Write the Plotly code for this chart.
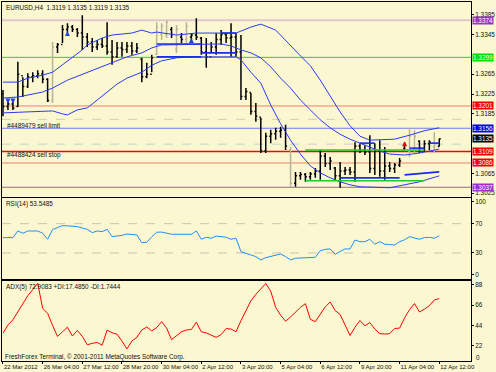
import plotly.graph_objects as go
from plotly.subplots import make_subplots

# ---------------- data ----------------
time_label_bars = [0, 8, 16, 24, 32, 40, 48, 56, 64, 72, 80, 88]
time_labels = ["22 Mar 2012", "26 Mar 04:00", "27 Mar 12:00", "28 Mar 20:00", "30 Mar 04:00",
               "2 Apr 12:00", "3 Apr 20:00", "5 Apr 04:00", "6 Apr 12:00", "9 Apr 20:00",
               "11 Apr 04:00", "12 Apr 12:00"]

bar_open = [1.3225, 1.3200, 1.3205, 1.3200, 1.3262, 1.3240, 1.3260, 1.3262, 1.3266, 1.3255,
            1.3212, 1.3320, 1.3325, 1.3355, 1.3360, 1.3355, 1.3348, 1.3340, 1.3330, 1.3320,
            1.3325, 1.3322, 1.3310, 1.3300, 1.3318, 1.3315, 1.3322, 1.3312, 1.3295, 1.3260,
            1.3265, 1.3305, 1.3345, 1.3345, 1.3355, 1.3315, 1.3340, 1.3335, 1.3340, 1.3344,
            1.3338, 1.3310, 1.3300, 1.3320, 1.3335, 1.3345, 1.3338, 1.3340, 1.3310, 1.3220,
            1.3228, 1.3190, 1.3178, 1.3110, 1.3140, 1.3145, 1.3150, 1.3152, 1.3112, 1.3045,
            1.3060, 1.3063, 1.3058, 1.3064, 1.3070, 1.3100, 1.3085, 1.3076, 1.3060, 1.3070,
            1.3072, 1.3068, 1.3120, 1.3112, 1.3108, 1.3075, 1.3110, 1.3070, 1.3080, 1.3075,
            1.3082, 1.3115, 1.3110, 1.3115, 1.3130, 1.3115, 1.3125, 1.3118, 1.3119]
bar_high = [1.3233, 1.3213, 1.3213, 1.3290, 1.3259, 1.3267, 1.3269, 1.3273, 1.3273, 1.3257,
            1.3330, 1.3328, 1.3364, 1.3368, 1.3364, 1.3358, 1.3384, 1.3348, 1.3338, 1.3334,
            1.3338, 1.3370, 1.3334, 1.3330, 1.3330, 1.3330, 1.3330, 1.3328, 1.3298, 1.3288,
            1.3304, 1.3370, 1.3368, 1.3374, 1.3360, 1.3364, 1.3348, 1.3370, 1.3348, 1.3378,
            1.3340, 1.3338, 1.3330, 1.3348, 1.3354, 1.3348, 1.3368, 1.3348, 1.3344, 1.3237,
            1.3227, 1.3207, 1.3177, 1.3147, 1.3153, 1.3157, 1.3159, 1.3163, 1.3118, 1.3068,
            1.3068, 1.3066, 1.3068, 1.3076, 1.3112, 1.3106, 1.3098, 1.3078, 1.3088, 1.3078,
            1.3078, 1.3128, 1.3126, 1.3122, 1.3142, 1.3126, 1.3132, 1.3118, 1.3088, 1.3086,
            1.3096, 1.3128, 1.3156, 1.3152, 1.3132, 1.3132, 1.3132, 1.3148, 1.3135]
bar_low = [1.3180, 1.3193, 1.3193, 1.3199, 1.3219, 1.3237, 1.3249, 1.3257, 1.3247, 1.3209,
           1.3207, 1.3308, 1.3328, 1.3348, 1.3350, 1.3340, 1.3314, 1.3320, 1.3310, 1.3314,
           1.3318, 1.3304, 1.3284, 1.3298, 1.3300, 1.3308, 1.3304, 1.3308, 1.3249, 1.3257,
           1.3269, 1.3304, 1.3334, 1.3338, 1.3338, 1.3308, 1.3328, 1.3328, 1.3330, 1.3334,
           1.3304, 1.3278, 1.3310, 1.3304, 1.3324, 1.3328, 1.3300, 1.3300, 1.3213, 1.3213,
           1.3183, 1.3169, 1.3106, 1.3106, 1.3126, 1.3133, 1.3137, 1.3112, 1.3038, 1.3038,
           1.3052, 1.3048, 1.3052, 1.3056, 1.3052, 1.3078, 1.3072, 1.3052, 1.3036, 1.3062,
           1.3062, 1.3048, 1.3106, 1.3102, 1.3066, 1.3062, 1.3058, 1.3052, 1.3068, 1.3066,
           1.3078, 1.3112, 1.3098, 1.3106, 1.3106, 1.3108, 1.3112, 1.3106, 1.3119]
bar_close = [1.3200, 1.3205, 1.3197, 1.3265, 1.3240, 1.3260, 1.3262, 1.3266, 1.3255, 1.3212,
             1.3320, 1.3325, 1.3355, 1.3360, 1.3355, 1.3348, 1.3340, 1.3330, 1.3320, 1.3325,
             1.3322, 1.3310, 1.3300, 1.3318, 1.3315, 1.3322, 1.3312, 1.3318, 1.3260, 1.3265,
             1.3298, 1.3360, 1.3362, 1.3370, 1.3345, 1.3355, 1.3335, 1.3362, 1.3344, 1.3340,
             1.3310, 1.3300, 1.3320, 1.3335, 1.3345, 1.3338, 1.3340, 1.3310, 1.3220, 1.3230,
             1.3190, 1.3180, 1.3110, 1.3140, 1.3145, 1.3150, 1.3152, 1.3120, 1.3045, 1.3060,
             1.3063, 1.3058, 1.3064, 1.3070, 1.3100, 1.3085, 1.3090, 1.3060, 1.3070, 1.3072,
             1.3068, 1.3120, 1.3112, 1.3108, 1.3075, 1.3110, 1.3070, 1.3080, 1.3075, 1.3082,
             1.3090, 1.3122, 1.3140, 1.3140, 1.3115, 1.3125, 1.3128, 1.3120, 1.3135]
gray_bars = [10, 31, 32, 33, 35, 37, 58, 82, 83, 87]

bb_up_x = [0, 3, 5, 8, 10, 13, 16, 17, 20, 22, 26, 28, 30, 31, 35, 37, 39, 44, 47, 50, 52, 55,
           58, 60, 62, 64, 66, 68, 70, 72, 74, 79, 82, 85, 88]
bb_up = [1.3249, 1.3249, 1.3257, 1.3263, 1.3269, 1.3292, 1.3314, 1.3324, 1.3338, 1.3344, 1.3348,
         1.3354, 1.3348, 1.3350, 1.3344, 1.3346, 1.3348, 1.3348, 1.3348, 1.3360, 1.3366, 1.3354,
         1.3322, 1.3302, 1.3282, 1.3253, 1.3221, 1.3189, 1.3161, 1.3140, 1.3132, 1.3134, 1.3142,
         1.3151, 1.3157]
bb_mid_x = [0, 3, 8, 10, 13, 16, 19, 22, 25, 28, 30, 32, 39, 44, 46, 48, 50, 52, 54, 56, 58, 60,
            62, 64, 66, 68, 70, 72, 74, 76, 78, 81, 84, 88]
bb_mid = [1.3217, 1.3219, 1.3229, 1.3237, 1.3253, 1.3265, 1.3276, 1.3288, 1.3300, 1.3308, 1.3318,
          1.3324, 1.3326, 1.3326, 1.3322, 1.3314, 1.3308, 1.3298, 1.3280, 1.3257, 1.3237, 1.3213,
          1.3193, 1.3173, 1.3157, 1.3144, 1.3134, 1.3126, 1.3118, 1.3110, 1.3104, 1.3102, 1.3106,
          1.3114]
bb_low_x = [0, 4, 10, 12, 13, 15, 17, 19, 21, 23, 25, 28, 30, 32, 35, 38, 47, 48, 50, 52, 54, 56,
            58, 60, 62, 64, 66, 68, 70, 72, 78, 81, 84, 88]
bb_low = [1.3187, 1.3189, 1.3191, 1.3185, 1.3183, 1.3193, 1.3197, 1.3213, 1.3229, 1.3245, 1.3257,
          1.3269, 1.3283, 1.3292, 1.3298, 1.3300, 1.3300, 1.3294, 1.3269, 1.3247, 1.3203, 1.3165,
          1.3132, 1.3104, 1.3080, 1.3066, 1.3056, 1.3048, 1.3042, 1.3038, 1.3036, 1.3042, 1.3048,
          1.3060]

chan_up_x = [31, 40, None, 44, 47, None, 72, 75, None, 82, 85, None, 86, 88]
chan_up = [1.3326, 1.3326, None, 1.3348, 1.3348, None, 1.3126, 1.3126, None, 1.3116, 1.3116, None,
           1.3126, 1.3126]
chan_low_x = [31, 40, None, 40, 47, None, 68, 80, None, 81, 88]
chan_low = [1.3300, 1.3300, None, 1.3308, 1.3308, None, 1.3056, 1.3056, None, 1.3062, 1.3068]

box_x = [61, 85]
box_top = [1.3112, 1.3112]
box_bottom = [1.3050, 1.3050]

level_prices = [1.3374, 1.3299, 1.3201, 1.3156, 1.3109, 1.3086, 1.3037]
level_colors = ["#E4C6D0", "#00F000", "#F0806A", "#6C7CF0", "#FF0000", "#F0806A", "#9A5CD0"]
level_widths = [2, 1, 1, 1, 1.5, 1, 1]
dash_levels = [1.3174, 1.3124]

tag_prices = [1.3374, 1.3299, 1.3201, 1.3156, 1.3135, 1.3109, 1.3086, 1.3037]
tag_colors = ["#9933CC", "#00E000", "#F00000", "#0000F0", "#000000", "#F00000", "#F00000", "#9933CC"]
price_ticks = [1.3385, 1.3345, 1.3265, 1.3225, 1.3185, 1.3065, 1.3025]

arrow_x = [1, 2, 13, 38, 81]
arrow_y = [1.3206, 1.3206, 1.3352, 1.3338, 1.3130]
arrow_sym = ["arrow-down", "arrow-down", "arrow-up", "arrow-up", "arrow-up"]
arrow_col = ["#2040F0", "#2040F0", "#2040F0", "#2040F0", "#F00000"]

rsi = [50.9, 50.9, 50.9, 60.0, 56.9, 60.0, 60.0, 60.0, 57.0, 48.7,
       62.0, 65.0, 67.3, 67.0, 66.9, 66.0, 64.0, 62.3, 57.7, 60.0,
       59.1, 62.3, 52.3, 53.0, 54.0, 55.9, 55.0, 54.6, 44.1, 44.6,
       52.0, 58.3, 58.5, 57.0, 55.5, 55.5, 55.5, 55.5, 55.5, 60.0,
       48.7, 51.4, 50.1, 53.0, 52.3, 51.5, 48.7, 50.1, 31.8, 30.0,
       27.3, 25.0, 20.5, 23.6, 25.0, 26.5, 28.6, 25.0, 20.5, 22.8,
       23.0, 23.6, 24.0, 24.1, 33.0, 35.0, 35.5, 28.2, 32.0, 35.5,
       35.5, 47.7, 45.4, 45.4, 48.7, 41.9, 45.4, 41.9, 41.5, 40.9,
       45.4, 48.0, 52.3, 50.1, 48.7, 51.0, 51.4, 50.1, 53.5]
adx = [35.4, 44.4, 50.0, 59.0, 67.5, 76.0, 82.7, 89.5, 62.5, 57.0,
       44.0, 32.0, 37.0, 42.0, 32.5, 38.5, 32.0, 23.0, 24.5, 25.5,
       22.5, 38.8, 36.0, 34.4, 27.0, 18.5, 27.0, 31.0, 39.0, 42.2,
       38.0, 41.5, 48.0, 41.0, 28.5, 32.5, 37.0, 39.0, 39.5, 47.5,
       37.0, 35.8, 33.5, 31.0, 34.0, 40.5, 40.0, 37.1, 49.0, 60.0,
       70.5, 77.6, 84.0, 89.3, 81.0, 63.5, 55.0, 48.5, 53.0, 58.5,
       63.5, 67.5, 50.5, 48.0, 56.0, 64.0, 69.3, 60.0, 55.8, 44.0,
       33.0, 42.0, 49.2, 43.5, 47.0, 40.0, 35.0, 34.6, 35.0, 40.6,
       41.0, 52.0, 61.0, 67.6, 58.5, 61.5, 65.3, 71.5, 72.9]
rsi_levels = [70, 30]
rsi_ticks = [100, 70, 30, 0]
adx_ticks = [88, 66, 44, 22]

# ---------------- figure ----------------
BG = "#FBF7D0"
FONT = "Liberation Sans"
FS = 6.4
W, H = 496, 372
ML, MR, MT, MB = 2, 25, 2, 11
PW, PH = W - ML - MR, H - MT - MB


def px(x):
    return (x - ML) / PW


def py(y):
    return (H - MB - y) / PH


fig = make_subplots(rows=3, cols=1, shared_xaxes=True, vertical_spacing=0.0)
n = len(bar_open)
idx = list(range(n))
black_idx = [i for i in idx if i not in gray_bars]
for sel, col in ((black_idx, "#000000"), (gray_bars, "#B8B49C")):
    fig.add_trace(go.Ohlc(
        x=sel, open=[bar_open[i] for i in sel], high=[bar_high[i] for i in sel],
        low=[bar_low[i] for i in sel], close=[bar_close[i] for i in sel],
        increasing_line_color=col, decreasing_line_color=col, line_width=1.5,
        tickwidth=0.3, showlegend=False, hoverinfo="skip"), row=1, col=1)

for xs, ys in ((bb_up_x, bb_up), (bb_mid_x, bb_mid), (bb_low_x, bb_low)):
    fig.add_trace(go.Scatter(x=xs, y=ys, mode="lines", line=dict(color="#2A3CF0", width=1),
                             showlegend=False, hoverinfo="skip"), row=1, col=1)
for xs, ys in ((chan_up_x, chan_up), (chan_low_x, chan_low)):
    fig.add_trace(go.Scatter(x=xs, y=ys, mode="lines", line=dict(color="#1A2AF0", width=1.6),
                             showlegend=False, hoverinfo="skip", connectgaps=False), row=1, col=1)
for ys in (box_top, box_bottom):
    fig.add_trace(go.Scatter(x=box_x, y=ys, mode="lines", line=dict(color="#22CC22", width=1.5),
                             showlegend=False, hoverinfo="skip"), row=1, col=1)
fig.add_trace(go.Scatter(x=arrow_x, y=arrow_y, mode="markers",
                         marker=dict(symbol=arrow_sym, color=arrow_col, size=5, line_width=0),
                         showlegend=False, hoverinfo="skip"), row=1, col=1)

fig.add_trace(go.Scatter(x=idx, y=rsi, mode="lines", line=dict(color="#1E90FF", width=1),
                         showlegend=False, hoverinfo="skip"), row=2, col=1)
fig.add_trace(go.Scatter(x=idx, y=adx, mode="lines", line=dict(color="#FF0000", width=1),
                         showlegend=False, hoverinfo="skip"), row=3, col=1)

shapes = []
for p, c, w in zip(level_prices, level_colors, level_widths):
    shapes.append(dict(type="line", xref="x domain", yref="y", x0=0, x1=1, y0=p, y1=p,
                       line=dict(color=c, width=w), layer="below"))
for p in dash_levels:
    shapes.append(dict(type="line", xref="x domain", yref="y", x0=0, x1=1, y0=p, y1=p,
                       line=dict(color="#D0CDC0", width=1, dash="dash"), layer="below"))
for v in rsi_levels:
    shapes.append(dict(type="line", xref="x2 domain", yref="y2", x0=0, x1=1, y0=v, y1=v,
                       line=dict(color="#C8C4B4", width=1, dash="dash"), layer="below"))

ann = []
for p, c in zip(tag_prices, tag_colors):
    ann.append(dict(xref="paper", yref="y", x=1, y=p, xanchor="left", yanchor="middle",
                    xshift=1, text=f"{p:.4f}", showarrow=False, bgcolor=c, borderpad=0,
                    font=dict(color="white", size=FS, family=FONT)))
texts = [
    ("EURUSD,H4  1.3119 1.3135 1.3119 1.3135", 4, 7),
    ("#4489479 sell limit", 5, 125),
    ("#4488424 sell stop", 5, 155),
    ("RSI(14) 53.5485", 4, 204),
    ("ADX(5) 72.9083 +DI:17.4850 -DI:1.7444", 4, 287),
    ("FreshForex Terminal, © 2001-2011 MetaQuotes Software Corp.", 3, 357),
]
for t, x, y in texts:
    ann.append(dict(xref="paper", yref="paper", x=px(x), y=py(y), xanchor="left",
                    yanchor="middle", text=t, showarrow=False,
                    font=dict(color="#111111", size=FS, family=FONT)))
ann.append(dict(xref="paper", yref="paper", x=1, y=py(357), xanchor="left", yanchor="middle",
                xshift=3, text="0", showarrow=False, font=dict(color="#111111", size=FS, family=FONT)))

fig.update_layout(
    width=W, height=H, margin=dict(l=ML, r=MR, t=MT, b=MB, autoexpand=False),
    paper_bgcolor=BG, plot_bgcolor=BG, shapes=shapes, annotations=ann,
    font=dict(family=FONT, size=FS, color="#111111"),
    yaxis=dict(domain=[py(197), 1.0], range=[1.30174, 1.34106], tickvals=price_ticks,
               ticktext=[f"{v:.4f}" for v in price_ticks]),
    yaxis2=dict(domain=[py(279), py(198)], range=[-5.5, 105], tickvals=rsi_ticks),
    yaxis3=dict(domain=[0, py(281)], range=[5.4, 92], tickvals=adx_ticks),
)
fig.update_xaxes(range=[-0.2, 94.4], showgrid=False, zeroline=False, showline=True, mirror=True,
                 linecolor="#000000", linewidth=1, rangeslider_visible=False,
                 ticks="", tickvals=time_label_bars, ticktext=time_labels, tickangle=0)
fig.update_xaxes(ticks="outside", ticklen=2, tickcolor="#000000",
                 ticklabelposition="outside right",
                 tickfont=dict(size=6.0, family=FONT, color="#111111"), row=3, col=1)
fig.update_yaxes(side="right", showgrid=False, zeroline=False, showline=True, mirror=True,
                 linecolor="#000000", linewidth=1, ticks="outside", ticklen=2,
                 tickcolor="#000000", tickfont=dict(size=FS, family=FONT, color="#111111"))

fig.write_html("out.html", config={"displayModeBar": False},
               post_script="document.body.style.margin='0';document.body.style.overflow='hidden';")
